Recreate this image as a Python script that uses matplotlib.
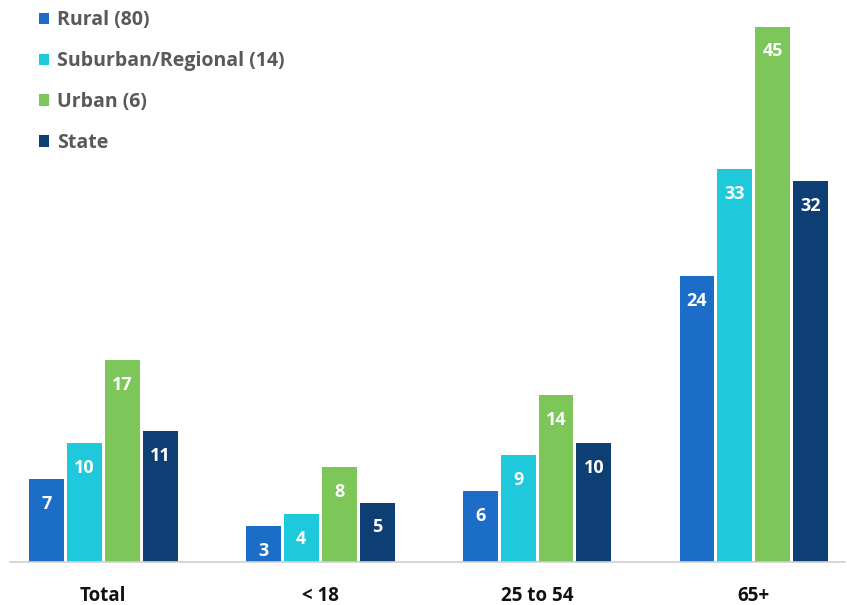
import matplotlib
matplotlib.use("Agg")
import matplotlib.pyplot as plt
from matplotlib.patches import Patch
import numpy as np

categories = ["Total", "< 18", "25 to 54", "65+"]
series_names = ["Rural (80)", "Suburban/Regional (14)", "Urban (6)", "State"]
rural = [7, 3, 6, 24]
suburban = [10, 4, 9, 33]
urban = [17, 8, 14, 45]
state = [11, 5, 10, 32]
colors = ["#1C6DC8", "#1DC9DA", "#7DC65A", "#0D3F75"]

plt.rcParams['font.family'] = ['Open Sans', 'DejaVu Sans']

fig = plt.figure(figsize=(8.47, 6.05), dpi=100)
ax = fig.add_axes([10/847, (605-562)/605, 835/847, 562/605])

x = np.arange(len(categories))
step = 0.175
width = 0.161
all_series = [rural, suburban, urban, state]
for i, (vals, col, name) in enumerate(zip(all_series, colors, series_names)):
    pos = x + (i - 1.5) * step
    bars = ax.bar(pos, vals, width=width, color=col, label=name, zorder=2)
    for b, v in zip(bars, vals):
        ax.annotate(str(v), (b.get_x() + b.get_width() / 2, v), xytext=(0, -25),
                    textcoords="offset pixels",
                    ha="center", va="center", color="white", fontsize=13,
                    fontweight="bold")

ax.set_xlim(-0.43, 3.42)
ax.set_ylim(0, 562 / 11.9)
ax.set_xticks(x)
ax.set_xticklabels(categories, fontsize=13.5, fontweight="bold", color="#111111")
ax.tick_params(axis="x", length=0, pad=17)
ax.set_yticks([])
for s in ["top", "right", "left"]:
    ax.spines[s].set_visible(False)
ax.spines["bottom"].set_color("#D0D0D0")
ax.spines["bottom"].set_linewidth(1.2)

handles = [Patch(facecolor=c, edgecolor="none") for c in colors]
leg = fig.legend(handles, series_names, loc="upper left", bbox_to_anchor=(21/847, 1 + 7/605),
                 frameon=False, handlelength=0.55, handleheight=0.55, handletextpad=0.4,
                 labelspacing=1.07, prop={"size": 14, "weight": "bold"})
for t in leg.get_texts():
    t.set_color("#595959")

fig.savefig("out.png", dpi=100)
